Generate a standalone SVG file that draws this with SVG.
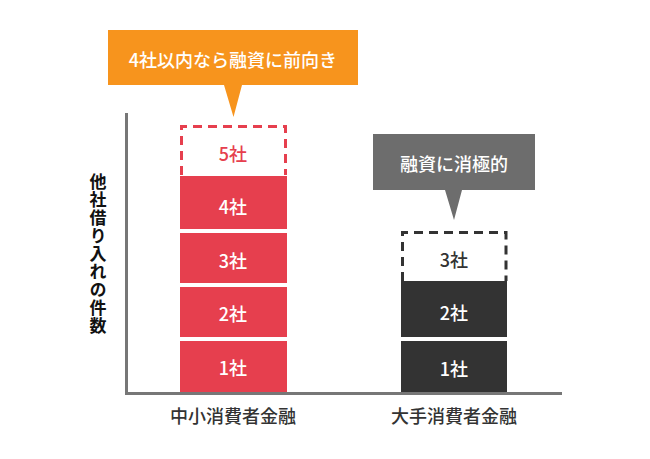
<svg xmlns="http://www.w3.org/2000/svg" width="650" height="459" viewBox="0 0 650 459">
<style>
text{font-family:"Noto Sans CJK JP","Noto Sans",sans-serif;text-anchor:middle;dominant-baseline:central}
.red{fill:#e63f4e}
.dark{fill:#333333}
.lbl{fill:#ffffff;font-size:18px;font-weight:500}
.dash{fill:none;stroke-width:3;stroke-dasharray:9 6}
.axis{stroke:#777777;stroke-width:3;fill:none}
.cat{fill:#333333;font-size:18px;font-weight:500}
.ax{fill:#111111;font-size:17px;font-weight:bold;writing-mode:vertical-rl;letter-spacing:1px}
.call{fill:#ffffff;font-size:18px;font-weight:500}
</style>
<rect width="650" height="459" fill="#ffffff"/>
<g id="axes" class="connectors">
<path class="axis" d="M126.5 113 V393.5 H562"/>
</g>
<g id="yaxis-label">
<text class="ax" x="98" y="254">他社借り入れの件数</text>
</g>
<g id="small-5">
<path class="dash" stroke="#e63f4e" d="M181.5 175 V126.5 H285.5 V175"/>
<text class="red" x="233" y="153" font-size="18" font-weight="500">5社</text>
</g>
<g id="small-4"><rect class="red" x="180" y="176" width="107" height="53"/><text class="lbl" x="233" y="206">4社</text></g>
<g id="small-3"><rect class="red" x="180" y="233" width="107" height="50"/><text class="lbl" x="233" y="260">3社</text></g>
<g id="small-2"><rect class="red" x="180" y="287" width="107" height="50"/><text class="lbl" x="233" y="313">2社</text></g>
<g id="small-1"><rect class="red" x="180" y="341" width="107" height="51"/><text class="lbl" x="233" y="367">1社</text></g>
<g id="small-label"><text class="cat" x="233" y="415">中小消費者金融</text></g>
<g id="small-callout">
<path fill="#f7941d" d="M108 30 H358 V85 H242 L233.5 117 L224 85 H108 Z"/>
<text class="call" x="233" y="59">4社以内なら融資に前向き</text>
</g>
<g id="large-3">
<path class="dash" stroke="#333333" d="M402.5 281 V232.5 H506 V281"/>
<text class="dark" x="454" y="259" font-size="18" font-weight="500">3社</text>
</g>
<g id="large-2"><rect class="dark" x="401" y="281" width="106" height="56"/><text class="lbl" x="454" y="312">2社</text></g>
<g id="large-1"><rect class="dark" x="401" y="341" width="106" height="51"/><text class="lbl" x="454" y="368">1社</text></g>
<g id="large-label"><text class="cat" x="454" y="415">大手消費者金融</text></g>
<g id="large-callout">
<path fill="#6d6d6d" d="M373 134 H535 V190 H462 L454 220 L445 190 H373 Z"/>
<text class="call" x="454" y="163">融資に消極的</text>
</g>
</svg>
